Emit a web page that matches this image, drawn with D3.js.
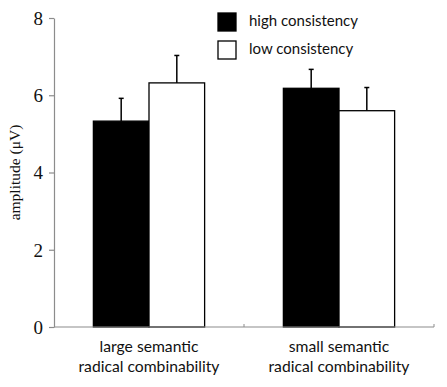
<!DOCTYPE html>
<html><head><meta charset="utf-8">
<script src="https://cdn.jsdelivr.net/npm/d3@7"></script>
<style>body{margin:0;background:#fff}svg{display:block}</style>
</head><body>
<svg id="c" width="447" height="387"></svg>
<script>
const categories = [["large semantic","radical combinability"],["small semantic","radical combinability"]];
const seriesNames = ["high consistency","low consistency"];
const seriesColors = ["#000000","#ffffff"];
const highValues = [5.33, 6.18];
const highErrors = [0.59, 0.49];
const lowValues = [6.32, 5.6];
const lowErrors = [0.71, 0.6];
const yTicks = [0,2,4,6,8];

const svg = d3.select("#c");
const m = {l:54, r:13, t:18, b:60};
const W = 447, H = 387;
const x0 = d3.scaleBand().domain(d3.range(categories.length)).range([m.l, W-m.r]).paddingInner(0).paddingOuter(0);
const x1 = d3.scaleBand().domain(d3.range(seriesNames.length)).range([0, x0.bandwidth()]).paddingInner(0).paddingOuter(0.708);
const y = d3.scaleLinear().domain([0,8]).range([H-m.b, m.t]);

const series = [
  {vals: highValues, errs: highErrors},
  {vals: lowValues, errs: lowErrors}
];

series.forEach((s, si) => {
  const g = svg.append("g");
  s.vals.forEach((v, ci) => {
    const bx = x0(ci) + x1(si);
    const bw = x1.bandwidth();
    const cx = bx + bw/2;
    g.append("line").attr("x1",cx).attr("x2",cx).attr("y1",y(v)).attr("y2",y(v+s.errs[ci]))
      .attr("stroke","#000").attr("stroke-width",1.5);
    g.append("line").attr("x1",cx-2.5).attr("x2",cx+2.5).attr("y1",y(v+s.errs[ci])).attr("y2",y(v+s.errs[ci]))
      .attr("stroke","#000").attr("stroke-width",1.5);
    g.append("rect").attr("x",bx).attr("y",y(v)).attr("width",bw).attr("height",y(0)-y(v))
      .attr("fill",seriesColors[si]).attr("stroke","#000").attr("stroke-width",1.3);
  });
});

const serif = "'Liberation Serif','DejaVu Serif',serif";
const sans = "Lato, 'Open Sans', sans-serif";

const yAxis = d3.axisLeft(y).tickValues(yTicks).tickSize(5).tickSizeOuter(0).tickFormat(d3.format("d"));
const ya = svg.append("g").attr("transform",`translate(${m.l},0)`).call(yAxis);
ya.attr("font-family", null).attr("font-size", null);
ya.select(".domain").attr("stroke","#8c8c8c").attr("stroke-width",1.2);
ya.selectAll(".tick line").attr("stroke","#8c8c8c").attr("stroke-width",1.2);
ya.selectAll(".tick text").style("font-family",serif).style("font-size","19px").attr("fill","#111").attr("x",-11).attr("dy","0.34em");

const xa = svg.append("g").attr("transform",`translate(0,${y(0)})`);
xa.append("line").attr("x1",m.l).attr("x2",W-m.r).attr("y1",0).attr("y2",0).attr("stroke","#8c8c8c").attr("stroke-width",1.2);
x0.domain().forEach(ci => {
  const xe = x0(ci) + x0.bandwidth();
  xa.append("line").attr("x1",xe).attr("x2",xe).attr("y1",0).attr("y2",-3).attr("stroke","#8c8c8c").attr("stroke-width",1);
  const t = xa.append("text").attr("text-anchor","middle").style("font-family",sans)
    .style("font-size","15.7px").attr("fill","#111");
  categories[ci].forEach((line, li) => {
    t.append("tspan").attr("x", x0(ci)+x0.bandwidth()/2).attr("y", 25 + li*20).text(line);
  });
});

svg.append("text").attr("transform",`translate(20,${(m.t + H-m.b)/2}) rotate(-90)`)
  .attr("text-anchor","middle").style("font-family",serif)
  .style("font-size","15.5px").attr("fill","#111").text("amplitude (μV)");

const lg = svg.append("g").attr("transform","translate(218,13)");
seriesNames.forEach((n,i) => {
  lg.append("rect").attr("x",0).attr("y",i*28).attr("width",18).attr("height",18)
    .attr("fill",seriesColors[i]).attr("stroke","#000").attr("stroke-width",1.3);
  lg.append("text").attr("x",31).attr("y",i*28+13).style("font-family",sans)
    .style("font-size","15px").attr("fill","#111").text(n);
});
</script>
</body></html>
